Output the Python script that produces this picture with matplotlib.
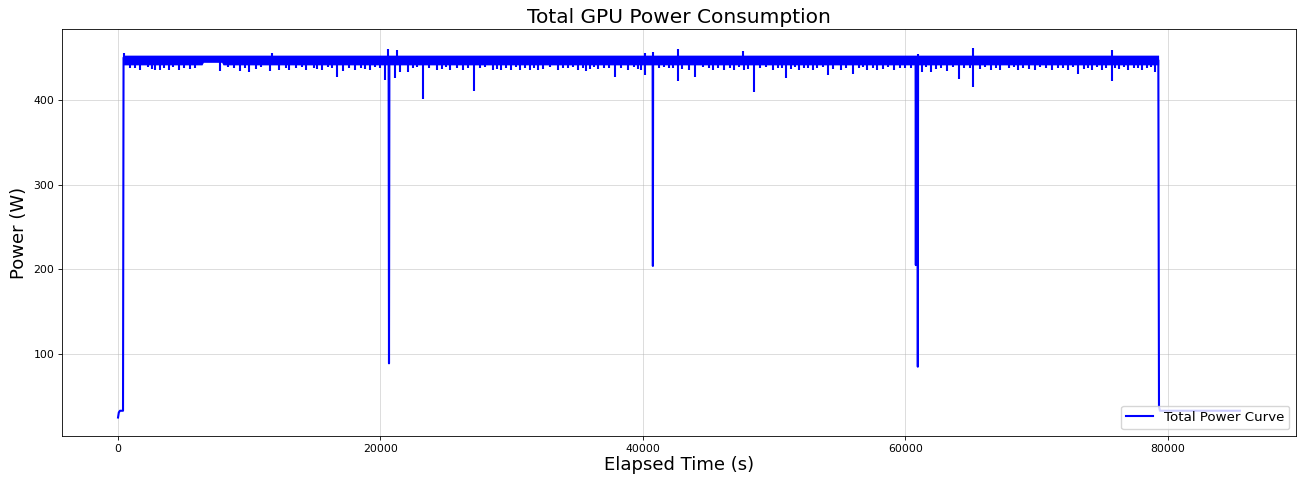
"""
Total GPU power consumption over the run, redrawn from the reference plot.
"""

import matplotlib
matplotlib.use("Agg")
import matplotlib.pyplot as plt

# ── Data ─────────────────────────────────────────────────────────────────────
# main curve: idle start, ramp, the four deep drops and the idle tail
curve_t = [0, 60, 150, 380, 420, 20620, 20650, 20680, 40740, 40760, 40780,
           60780, 60800, 60820, 60930, 60950, 60970, 79280, 79330, 79400, 85500]
curve_w = [25, 31, 33, 33, 450, 447, 89, 447, 447, 204, 447,
           447, 205, 447, 447, 85, 447, 447, 38, 33, 33]

# dense noise band while under load (upper / lower edge)
band_t  = [420, 6400, 6500, 7900, 8000, 79300]
band_hi = [453, 453, 453, 453, 453, 453]
band_lo = [441.5, 441.5, 444.5, 444.5, 441.5, 441.5]
BAND_MID = 447

# short downward dips under the band
dip_t = [1676, 2819, 3200, 3886, 4648, 5486, 7771, 9295, 9981, 11581, 12267,
         13000, 14324, 15543, 16660, 17170, 18057, 19200, 20345, 21105, 21486,
         22120, 23238, 24282, 25295, 26310, 27124, 28571, 29181, 29943, 30606,
         31368, 32000, 33524, 35048, 35680, 36571, 37844, 38857, 39870, 40150,
         42640, 43528, 43962, 45311, 46195, 46957, 47718, 48480, 49883, 50895,
         51908, 52930, 54095, 55060, 56000, 57090, 57850, 59124, 61280, 61920,
         63185, 64076, 65170, 66490, 67250, 68620, 69890, 71160, 72430, 73190,
         74210, 74970, 75730, 77000, 78020, 79030]
dip_w = [435, 436, 435, 435, 435, 437, 434, 434, 433, 434, 435,
         435, 435, 435, 427.5, 434, 436, 435, 424, 426, 433,
         433, 401, 435, 436, 436, 411, 436, 435, 436, 435,
         436, 435, 436, 435, 434, 437, 427.5, 436, 435, 430,
         423, 436, 427.5, 435, 436, 435, 436, 409, 435, 426,
         436, 435, 430, 436, 431, 435, 436, 436, 433.5, 433.5,
         434, 425, 415, 435, 436, 436, 436, 435, 436, 431,
         435, 436, 423, 435, 436, 433.5]

# shallow ripples along the lower edge of the band
ripple_t = [900, 1300, 2300, 2600, 3500, 4200, 5000, 5900, 8400, 8800, 9700,
            10500, 10900, 12800, 13600, 14000, 14900, 15200, 16000, 16300, 17600,
            18500, 18800, 19600, 20000, 22500, 22800, 23700, 24700, 25000, 25800,
            26700, 27600, 28000, 28900, 29600, 30300, 31000, 31700, 32400, 32900,
            33900, 34300, 34700, 35400, 36000, 36300, 37000, 37400, 38300, 39300,
            39600, 41200, 41600, 42000, 42300, 43000, 44600, 45000, 45700, 46600,
            47300, 48000, 48900, 49400, 50300, 50600, 51300, 51600, 52300, 52600,
            53300, 53700, 54500, 55500, 56500, 56800, 57500, 58300, 58700, 59600,
            60000, 60400, 61600, 62300, 62700, 63600, 64500, 64900, 65700, 66100,
            66900, 67900, 68300, 69000, 69400, 70300, 70700, 71600, 72000, 72800,
            73600, 73900, 74600, 75300, 76000, 76300, 76700, 77400, 77700, 78400,
            78700]
ripple_w = [438, 437.5, 438.5, 437, 438, 438.5, 437.5, 438, 438.5, 437.5, 438,
            437, 438.5, 438, 437.5, 438.5, 438, 437, 438.5, 438, 437.5,
            438, 437, 438.5, 438, 437.5, 438.5, 438, 437, 438.5, 438,
            437.5, 438, 438.5, 437, 438, 438.5, 437.5, 438, 437, 438.5,
            438, 437.5, 438.5, 438, 437, 438.5, 438, 437.5, 438, 438.5,
            437, 438, 438.5, 437.5, 438, 437, 438.5, 438, 437.5, 438,
            438.5, 437, 438, 438.5, 437.5, 438, 437, 438.5, 438, 437.5,
            438, 438.5, 437, 438, 437.5, 438.5, 438, 437, 438.5, 438,
            437.5, 438, 438.5, 437, 438, 438.5, 437.5, 438, 437, 438.5,
            438, 437.5, 438.5, 438, 437, 438.5, 438, 437.5, 438, 438.5,
            437, 438, 438.5, 437.5, 438, 437, 438.5, 438, 437.5, 438,
            438.5]

# short upward spikes above the band
peak_t = [450, 11733, 20545, 21234, 40150, 40760, 42640, 47600, 60950, 65170, 75730]
peak_w = [455.5, 456, 460, 459, 456, 457, 460, 458, 454.7, 462, 459]

# ── Plot ─────────────────────────────────────────────────────────────────────
fig = plt.figure(figsize=(13.04, 4.82), dpi=100)
ax = fig.add_axes([0.0475, 0.0954, 0.9464, 0.8444])

LW = 1.5
ax.fill_between(band_t, band_lo, band_hi, color="blue", linewidth=0, zorder=2)
ax.vlines(ripple_t, BAND_MID, ripple_w, color="blue", linewidth=LW, zorder=2)
ax.vlines(dip_t, BAND_MID, dip_w, color="blue", linewidth=LW, zorder=2)
ax.vlines(peak_t, BAND_MID, peak_w, color="blue", linewidth=LW, zorder=2)
ax.plot(curve_t, curve_w, color="blue", linewidth=LW, label="Total Power Curve",
        zorder=3)

ax.set_title("Total GPU Power Consumption", fontsize=14.5, pad=4)
ax.set_xlabel("Elapsed Time (s)", fontsize=13, labelpad=2)
ax.set_ylabel("Power (W)", fontsize=13, labelpad=4)
ax.tick_params(labelsize=7.8, length=2.7, width=0.6, pad=2.7)
for s in ax.spines.values():
    s.set_linewidth(0.6)
ax.grid(True, alpha=0.5, linewidth=0.6)

ax.legend(loc="lower right", fontsize=9.6)

fig.savefig("out.png", dpi=100)
